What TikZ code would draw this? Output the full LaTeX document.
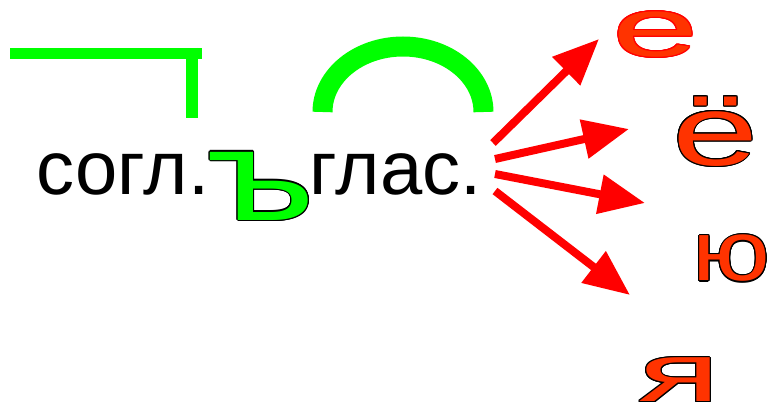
\documentclass[tikz,border=0pt]{standalone}
\usepackage{fontspec}
\setmainfont{Liberation Sans}
\usepackage{graphicx}
\usepackage[copies]{contour}
\usetikzlibrary{arrows.meta}
\definecolor{signgreen}{RGB}{0,255,0}
\definecolor{vowelred}{RGB}{255,51,0}
\definecolor{arrowred}{RGB}{255,0,0}
\contourlength{1.1pt}

\begin{document}
\begin{tikzpicture}[
    x=1pt, y=-1pt,
    wordtext/.style={inner sep=0pt, font=\fontsize{76}{80}\selectfont},
    markline/.style={draw=signgreen, line width=11.5pt},
    rootarc/.style={draw=signgreen, line width=20pt},
    vowelletter/.style={inner sep=0pt, text=vowelred},
    pointer/.style={draw=arrowred, line width=8pt, -{Triangle[length=46pt, width=38pt]}}
  ]
  \path[use as bounding box] (0,0) rectangle (769,404);

  % Word scheme: consonant, hard sign, vowel
  \node[wordtext] (cons) at (123,174) {согл.};
  \node[wordtext, text=signgreen] (hard) at (261,186.5)
    {\fontsize{129}{130}\selectfont\contour{black}{\scalebox{1.35}[1]{ъ}}};
  \node[wordtext] (vow) at (395.5,174) {глас.};

  % Prefix mark
  \draw[markline] (10,53.5) -- (202,53.5);
  \draw[markline] (192,48) -- (192,118);

  % Root mark
  \draw[rootarc] (322.5,112) arc[start angle=180, end angle=360, x radius=80.5, y radius=65.5];

  % Iotated vowels
  \node[vowelletter] (le) at (655.5,35)
    {\fontsize{83}{84}\selectfont\contour{arrowred}{\scalebox{1.87}[1]{е}}};
  \node[vowelletter] (lyo) at (715.5,132)
    {\fontsize{100}{100}\selectfont\contour{black}{\scalebox{1.55}[1]{ё}}};
  \node[vowelletter] (lyu) at (731.5,259)
    {\fontsize{85}{86}\selectfont\contour{black}{\scalebox{1.22}[1]{ю}}};
  \node[vowelletter] (lya) at (679.5,380.5)
    {\fontsize{83}{84}\selectfont\contour{black}{\scalebox{1.83}[1]{я}}};

  % Arrows from the vowel
  \coordinate (s1) at (493,143);
  \coordinate (s2) at (495,159);
  \coordinate (s3) at (495,174);
  \coordinate (s4) at (495,191);
  \coordinate (t1) at (599,39);
  \coordinate (t2) at (629,129);
  \coordinate (t3) at (645,203);
  \coordinate (t4) at (630,295);
  \foreach \i in {1,...,4}
    \draw[pointer] (s\i) -- (t\i);
\end{tikzpicture}
\end{document}
